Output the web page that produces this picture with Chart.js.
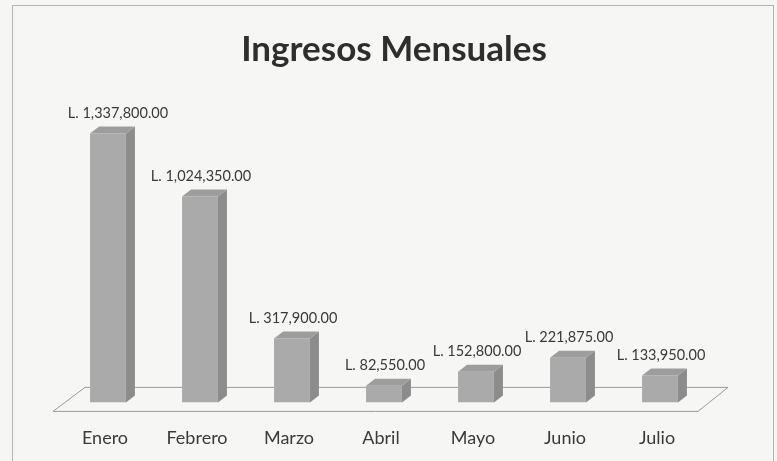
<!DOCTYPE html>
<html>
<head>
<meta charset="utf-8">
<script src="https://cdn.jsdelivr.net/npm/chart.js@4"></script>
<style>
  html, body { margin: 0; padding: 0; background: #f6f6f4; }
  #wrap { width: 777px; height: 461px; position: relative; }
</style>
</head>
<body>
<div id="wrap"><canvas id="chart"></canvas></div>
<script>
const months = ["Enero", "Febrero", "Marzo", "Abril", "Mayo", "Junio", "Julio"];
const ingresos = [1337800, 1024350, 317900, 82550, 152800, 221875, 133950];
const titleText = "Ingresos Mensuales";

const fmt = v => "L. " + v.toLocaleString("en-US", { minimumFractionDigits: 2, maximumFractionDigits: 2 });

// background, frame, title and the 3d floor
const frame = {
  id: "frame",
  beforeDraw(chart) {
    const c = chart.ctx;
    c.save();
    c.fillStyle = "#f6f6f4";
    c.fillRect(0, 0, chart.width, chart.height);
    c.strokeStyle = "#b4b4b4";
    c.lineWidth = 1;
    c.strokeRect(12.5, 5.5, 761, 470);
    // title is a bit right of the plot centre in the original
    c.fillStyle = "#2e2e2e";
    c.font = "bold 35px Lato";
    c.textAlign = "center";
    c.textBaseline = "middle";
    c.fillText(titleText, 394, 50);
    c.restore();
  },
  beforeDatasetsDraw(chart) {
    const a = chart.chartArea, c = chart.ctx;
    c.save();
    c.strokeStyle = "#9a9a9a";
    c.lineWidth = 1;
    c.beginPath();
    c.moveTo(a.left - 9, a.bottom + 9);
    c.lineTo(a.left + 23, a.bottom - 15);
    c.lineTo(a.right + 22, a.bottom - 15);
    c.lineTo(a.right - 8, a.bottom + 9);
    c.closePath();
    c.stroke();
    c.restore();
  }
};

// top and side faces + value labels
const bars3d = {
  id: "bars3d",
  afterDatasetsDraw(chart) {
    const c = chart.ctx;
    const d = 9, h = 7;
    chart.getDatasetMeta(0).data.forEach((bar, i) => {
      const l = bar.x - bar.width / 2, r = bar.x + bar.width / 2;
      c.save();
      c.fillStyle = "#8c8c8c";
      c.beginPath();
      c.moveTo(r, bar.y);
      c.lineTo(r + d, bar.y - h);
      c.lineTo(r + d, bar.base - h);
      c.lineTo(r, bar.base);
      c.closePath();
      c.fill();
      c.fillStyle = "#9d9d9d";
      c.beginPath();
      c.moveTo(l, bar.y);
      c.lineTo(l + d, bar.y - h);
      c.lineTo(r + d, bar.y - h);
      c.lineTo(r, bar.y);
      c.closePath();
      c.fill();
      c.fillStyle = "#3a3a3a";
      c.font = "14.5px Lato";
      c.textAlign = "center";
      c.textBaseline = "middle";
      c.fillText(fmt(ingresos[i]), bar.x + (i === 0 ? 10 : 1), bar.y - 20);
      c.restore();
    });
  }
};

new Chart(document.getElementById("chart"), {
  type: "bar",
  data: {
    labels: months,
    datasets: [{
      data: ingresos,
      backgroundColor: "#aaaaaa",
      borderWidth: 0,
      barPercentage: 0.39,
      categoryPercentage: 1
    }]
  },
  options: {
    responsive: true,
    maintainAspectRatio: false,
    animation: false,
    layout: { padding: { left: 62, right: 71, top: 111, bottom: -13 } },
    plugins: {
      legend: { display: false },
      tooltip: { enabled: false },
      title: { display: false }
    },
    scales: {
      x: {
        grid: { display: false, drawTicks: false },
        border: { display: false },
        ticks: { color: "#3a3a3a", font: { family: "Lato", size: 18 }, padding: 25, labelOffset: -3 }
      },
      y: {
        display: false,
        min: 0,
        max: 1450000
      }
    }
  },
  plugins: [frame, bars3d]
});
</script>
</body>
</html>
